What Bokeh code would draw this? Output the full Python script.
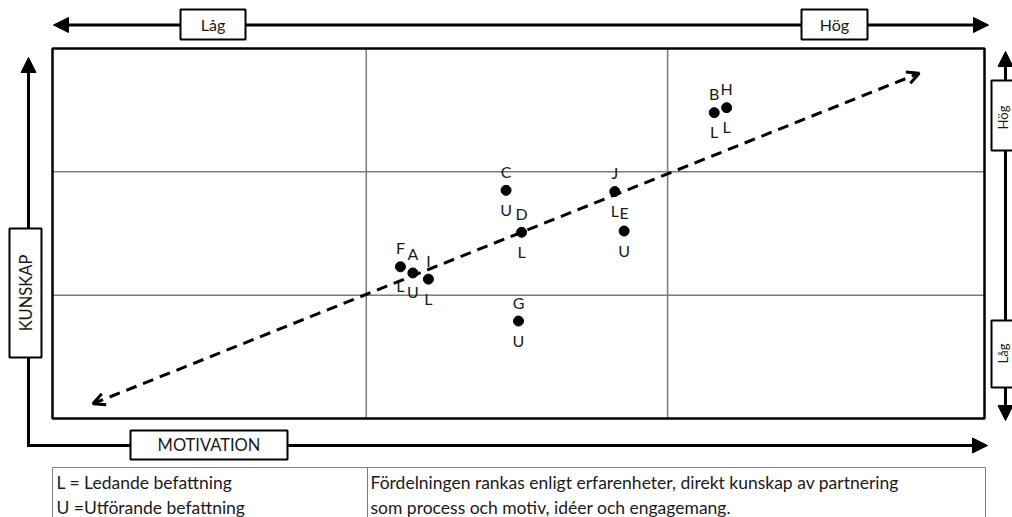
import math
from bokeh.plotting import figure
from bokeh.models import Range1d, Arrow, NormalHead, OpenHead, ColumnDataSource
from bokeh.core.properties import value
from bokeh.embed import file_html
from bokeh.resources import INLINE

# ---------------- data ----------------
names = ["B", "H", "C", "D", "J", "E", "F", "A", "I", "G"]
roles = ["L", "L", "U", "L", "L", "U", "L", "U", "L", "U"]
motivation = [2.13, 2.17, 1.46, 1.51, 1.81, 1.84, 1.12, 1.16, 1.21, 1.50]
kunskap = [2.48, 2.52, 1.85, 1.51, 1.84, 1.52, 1.23, 1.18, 1.13, 0.79]
trend_x = [0.13, 2.79]
trend_y = [0.12, 2.80]
quadrant_x = [1.01, 1.98]
quadrant_y = [1.00, 2.00]
axis_low, axis_high = "Låg", "Hög"
x_title, y_title = "MOTIVATION", "KUNSKAP"
legend_left = ["L = Ledande befattning", "U =Utförande befattning"]
legend_right = ["Fördelningen rankas enligt erfarenheter, direkt kunskap av partnering",
                "som process och motiv, idéer och engagemang."]

# ---------------- layout helpers (pixel -> data) ----------------
W, H = 1012, 517
BOX_L, BOX_R, BOX_T, BOX_B = 52, 984, 48, 418
SX = (BOX_R - BOX_L) / 3.0
SY = (BOX_B - BOX_T) / 3.0
def X(px):
    return (px - BOX_L) / SX
def Y(py):
    return (BOX_B - py) / SY

FONT = value("Lato")
TXT = "#1a1a1a"

p = figure(width=W, height=H, x_range=Range1d(X(0), X(W)), y_range=Range1d(Y(H), Y(0)),
           output_backend="svg", toolbar_location=None, x_axis_type=None, y_axis_type=None,
           min_border=0, min_border_left=0, min_border_right=0, min_border_top=0,
           min_border_bottom=0, outline_line_color=None)
p.xgrid.visible = False
p.ygrid.visible = False
p.background_fill_color = "white"
p.border_fill_color = "white"

# quadrant grid
for gx in quadrant_x:
    p.line([gx, gx], [0, 3], line_color="#7a7a7a", line_width=1.5)
for gy in quadrant_y:
    p.line([0, 3], [gy, gy], line_color="#7a7a7a", line_width=1.5)
# frame
p.quad(left=[0], right=[3], bottom=[0], top=[3], fill_color=None, line_color="black", line_width=2.5)

# ---------------- outer arrows ----------------
def head():
    return NormalHead(size=15, fill_color="black", line_color="black", line_width=1)

# top double arrow
p.add_layout(Arrow(x_start=X(53), y_start=Y(24.5), x_end=X(988), y_end=Y(24.5),
                   start=head(), end=head(), line_width=3, line_color="black", level="underlay"))
# right double arrow
p.add_layout(Arrow(x_start=X(1005), y_start=Y(420), x_end=X(1005), y_end=Y(51),
                   start=head(), end=head(), line_width=3, line_color="black", level="underlay"))
# left/bottom L-shaped arrow
p.line([X(28), X(28), X(975)], [Y(65), Y(445), Y(445)], line_color="black", line_width=3,
       line_join="miter")
p.add_layout(Arrow(x_start=X(28), y_start=Y(100), x_end=X(28), y_end=Y(57),
                   end=head(), line_alpha=0, line_width=3))
p.add_layout(Arrow(x_start=X(900), y_start=Y(445), x_end=X(987), y_end=Y(445),
                   end=head(), line_alpha=0, line_width=3))

# label boxes
boxes = [
    (180, 245, 9, 39),     # top Låg
    (801, 867, 9, 39),     # top Hög
    (991, 1030, 80, 150),  # right Hög
    (991, 1030, 320, 387), # right Låg
    (9, 41, 228, 357),     # KUNSKAP
    (130, 287, 430, 459),  # MOTIVATION
]
p.quad(left=[X(b[0]) for b in boxes], right=[X(b[1]) for b in boxes],
       top=[Y(b[2]) for b in boxes], bottom=[Y(b[3]) for b in boxes],
       fill_color="white", line_color="black", line_width=2)

def label(txt, px, py, angle=0.0, align="center", size="16px"):
    p.text(x=[X(px)], y=[Y(py)], text=[txt], angle=angle, text_align=align,
           text_baseline="middle", text_font=FONT, text_font_size=size, text_color=TXT)

label(axis_low, 212.5, 24)
label(axis_high, 834, 24)
label(axis_high, 1002, 117, angle=math.pi / 2, size="13px")
label(axis_low, 1002, 353, angle=math.pi / 2, size="13px")
label(y_title, 25, 292.5, angle=math.pi / 2, size="16.5px")
label(x_title, 208.5, 444.5, size="16.5px")

# ---------------- bottom table ----------------
p.quad(left=[X(52)], right=[X(985)], top=[Y(467)], bottom=[Y(530)], fill_color=None,
       line_color="#808080", line_width=1)
p.line([X(367), X(367)], [Y(467), Y(530)], line_color="#808080", line_width=1)
for i, (lt, rt) in enumerate(zip(legend_left, legend_right)):
    yy = 482 + 25 * i
    label(lt, 56, yy, align="left", size="17.5px")
    label(rt, 370, yy, align="left", size="17.5px")

# ---------------- trend arrow ----------------
p.add_layout(Arrow(x_start=trend_x[0], y_start=trend_y[0], x_end=trend_x[1], y_end=trend_y[1],
                   start=OpenHead(size=12, line_width=3, line_color="black"),
                   end=OpenHead(size=12, line_width=3, line_color="black"),
                   line_width=3, line_color="black", line_dash="11 7"))

# ---------------- points ----------------
src = ColumnDataSource(dict(x=motivation, y=kunskap, name=names, role=roles))
p.scatter("x", "y", source=src, size=10, fill_color="black", line_color="black")
p.text("x", "y", text="name", source=src, y_offset=-19, text_align="center",
       text_baseline="middle", text_font=FONT, text_font_size="16px", text_color=TXT)
p.text("x", "y", text="role", source=src, y_offset=19, text_align="center",
       text_baseline="middle", text_font=FONT, text_font_size="16px", text_color=TXT)

open("out.html", "w").write(file_html(p, INLINE))
